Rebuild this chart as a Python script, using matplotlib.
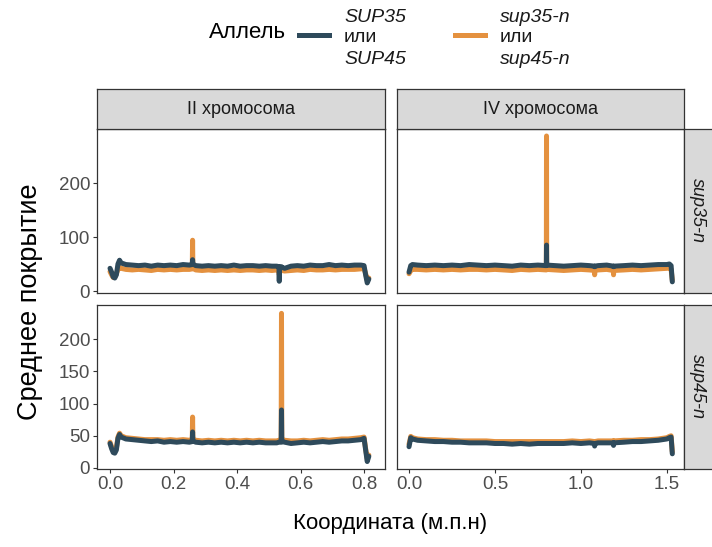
import matplotlib
matplotlib.use("Agg")
import matplotlib.pyplot as plt
from matplotlib.lines import Line2D

plt.rcParams['font.family'] = ['Liberation Sans', 'DejaVu Sans']

# --- coverage data (position in Mb, mean coverage) ---------------------------
chrII_pos = [0.000, 0.005, 0.010, 0.015, 0.020, 0.025, 0.030, 0.035, 0.05, 0.07,
             0.09, 0.11, 0.13, 0.15, 0.17, 0.19, 0.21, 0.23, 0.25, 0.259,
             0.260, 0.261, 0.27, 0.29, 0.31, 0.33, 0.35, 0.37, 0.39, 0.41,
             0.43, 0.45, 0.47, 0.49, 0.51, 0.525, 0.532, 0.533, 0.534, 0.539,
             0.540, 0.541, 0.55, 0.57, 0.59, 0.61, 0.63, 0.65, 0.67, 0.69,
             0.71, 0.73, 0.75, 0.77, 0.79, 0.800, 0.805, 0.810, 0.815]

chrIV_pos = [0.000, 0.010, 0.020, 0.05, 0.10, 0.15, 0.20, 0.25, 0.30, 0.35,
             0.40, 0.45, 0.50, 0.55, 0.60, 0.65, 0.70, 0.75, 0.799, 0.800,
             0.801, 0.85, 0.90, 0.95, 1.00, 1.05, 1.079, 1.080, 1.081, 1.10,
             1.15, 1.189, 1.190, 1.191, 1.25, 1.30, 1.35, 1.40, 1.45, 1.50,
             1.515, 1.525, 1.532]

# row "sup35-n"
II_sup35_wt = [42, 35, 26, 24, 30, 50, 57, 52, 49, 48,
               47, 48, 46, 48, 47, 48, 47, 49, 48, 49,
               58, 50, 47, 46, 47, 46, 47, 46, 48, 46,
               47, 47, 46, 47, 46, 46, 45, 18, 44, 45,
               45, 44, 42, 46, 47, 46, 48, 47, 47, 49,
               47, 48, 47, 48, 48, 47, 30, 15, 22]
II_sup35_mut = [36, 30, 25, 26, 32, 40, 44, 42, 40, 39,
                40, 39, 38, 40, 39, 40, 39, 40, 40, 41,
                94, 42, 39, 38, 39, 38, 39, 38, 39, 38,
                39, 39, 38, 39, 38, 39, 38, 30, 38, 39,
                39, 38, 37, 38, 39, 38, 40, 39, 39, 40,
                39, 40, 40, 40, 41, 42, 32, 20, 24]
IV_sup35_wt = [35, 47, 49, 48, 47, 48, 47, 48, 47, 49,
               48, 47, 48, 47, 46, 48, 47, 48, 47, 85,
               48, 47, 46, 47, 48, 47, 46, 45, 46, 47,
               48, 46, 45, 46, 47, 48, 47, 48, 49, 49,
               50, 47, 17]
IV_sup35_mut = [32, 38, 40, 40, 39, 40, 39, 40, 39, 40,
                40, 39, 40, 39, 38, 40, 39, 40, 39, 287,
                40, 39, 38, 39, 40, 39, 38, 30, 38, 39,
                40, 38, 30, 38, 39, 40, 39, 40, 41, 42,
                43, 40, 20]

# row "sup45-n"
II_sup45_wt = [38, 30, 24, 23, 28, 46, 52, 48, 45, 44,
               43, 42, 41, 42, 40, 41, 40, 41, 40, 41,
               56, 42, 40, 39, 40, 39, 40, 39, 40, 39,
               40, 39, 40, 39, 39, 39, 40, 40, 40, 40,
               90, 41, 40, 38, 39, 40, 39, 40, 41, 40,
               41, 42, 42, 43, 44, 46, 28, 10, 18]
II_sup45_mut = [40, 33, 27, 26, 31, 48, 54, 50, 47, 46,
                45, 44, 44, 44, 43, 44, 43, 44, 43, 44,
                79, 45, 43, 42, 43, 42, 43, 42, 43, 42,
                43, 42, 43, 42, 42, 42, 43, 43, 43, 43,
                240, 44, 43, 42, 42, 43, 42, 43, 44, 43,
                44, 45, 45, 46, 47, 48, 30, 14, 20]
IV_sup45_wt = [33, 47, 45, 43, 42, 41, 41, 40, 40, 39,
               39, 39, 38, 38, 37, 38, 37, 38, 38, 38,
               38, 38, 38, 39, 38, 39, 38, 34, 38, 39,
               39, 39, 35, 39, 40, 41, 41, 42, 43, 45,
               47, 48, 22]
IV_sup45_mut = [37, 49, 47, 45, 44, 44, 43, 43, 42, 42,
                42, 42, 41, 41, 41, 41, 41, 41, 41, 41,
                41, 41, 41, 42, 41, 42, 41, 39, 41, 42,
                42, 42, 40, 42, 43, 43, 44, 44, 45, 47,
                49, 50, 25]

chrom_labels = ["II хромосома", "IV хромосома"]
row_labels = ["sup35-n", "sup45-n"]
x_ticks = [[0.0, 0.2, 0.4, 0.6, 0.8], [0.0, 0.5, 1.0, 1.5]]
x_limits = [(-0.041, 0.866), (-0.07, 1.60)]
y_ticks = [[0, 100, 200], [0, 50, 100, 150, 200]]
y_limits = [(-3.7, 300), (-1.6, 253)]

panels = {
    (0, 0): (chrII_pos, II_sup35_wt, II_sup35_mut),
    (0, 1): (chrIV_pos, IV_sup35_wt, IV_sup35_mut),
    (1, 0): (chrII_pos, II_sup45_wt, II_sup45_mut),
    (1, 1): (chrIV_pos, IV_sup45_wt, IV_sup45_mut),
}

col_wt = "#2E4A5B"
col_mut = "#E4913F"
edge = "#333333"
strip_fill = "#D9D9D9"
tick_col = "#4D4D4D"

W, H = 712, 547
fig = plt.figure(figsize=(W / 100, H / 100), dpi=100)


def rect(x0, y0, x1, y1):
    return [x0 / W, 1 - y1 / H, (x1 - x0) / W, (y1 - y0) / H]


col_x = [(97, 385), (397, 684)]
row_y = [(129, 293), (305, 469)]

for (r, c), (pos, wt, mut) in panels.items():
    ax = fig.add_axes(rect(col_x[c][0], row_y[r][0], col_x[c][1], row_y[r][1]))
    ax.plot(pos, mut, color=col_mut, lw=3.6, solid_capstyle="round", solid_joinstyle="round")
    ax.plot(pos, wt, color=col_wt, lw=3.6, solid_capstyle="round", solid_joinstyle="round")
    ax.set_xlim(*x_limits[c])
    ax.set_ylim(*y_limits[r])
    ax.set_xticks(x_ticks[c])
    ax.set_yticks(y_ticks[r])
    for s in ax.spines.values():
        s.set_color(edge)
        s.set_linewidth(0.9)
    ax.tick_params(length=3, width=0.8, color=edge, labelcolor=tick_col,
                   labelsize=13.5, pad=2)
    if r == 1:
        ax.set_xticklabels([f"{t:.1f}" for t in x_ticks[c]])
    else:
        ax.tick_params(axis="x", length=0, labelbottom=False)
    if c == 0:
        ax.set_yticklabels([str(t) for t in y_ticks[r]])
    else:
        ax.tick_params(axis="y", length=0, labelleft=False)

# facet strips
for c, lab in enumerate(chrom_labels):
    sa = fig.add_axes(rect(col_x[c][0], 89, col_x[c][1], 129))
    sa.set_facecolor(strip_fill)
    sa.set_xticks([]); sa.set_yticks([])
    for s in sa.spines.values():
        s.set_color(edge); s.set_linewidth(0.9)
    sa.text(0.5, 0.5, lab, ha="center", va="center", fontsize=13,
            color="#1A1A1A", transform=sa.transAxes)

for r, lab in enumerate(row_labels):
    sa = fig.add_axes(rect(684, row_y[r][0], 716, row_y[r][1]))
    sa.set_facecolor(strip_fill)
    sa.set_xticks([]); sa.set_yticks([])
    for s in sa.spines.values():
        s.set_color(edge); s.set_linewidth(0.9)
    sa.text(0.42, 0.5, lab, ha="center", va="center", fontsize=13,
            style="italic", rotation=-90, color="#1A1A1A", transform=sa.transAxes)

# axis titles
fig.text(30 / W, 1 - 302 / H, "Среднее покрытие", rotation=90, ha="center",
         va="center", fontsize=19.5)
fig.text(390 / W, 1 - 524 / H, "Координата (м.п.н)", ha="center", va="center",
         fontsize=16)

# legend
fig.text(247 / W, 1 - 33 / H, "Аллель", ha="center", va="center", fontsize=16)
for col, x0, labels in [(col_wt, 299, ["SUP35", "или", "SUP45"]),
                        (col_mut, 455, ["sup35-n", "или", "sup45-n"])]:
    fig.add_artist(Line2D([x0 / W, (x0 + 30) / W], [1 - 35 / H, 1 - 35 / H],
                          color=col, lw=3.6, transform=fig.transFigure))
    for i, (t, y) in enumerate(zip(labels, [17, 38, 60])):
        fig.text((x0 + 45) / W, 1 - y / H, t, ha="left", va="center",
                 fontsize=14, style="normal" if i == 1 else "italic",
                 color="#1A1A1A")

fig.savefig("out.png", dpi=100)
